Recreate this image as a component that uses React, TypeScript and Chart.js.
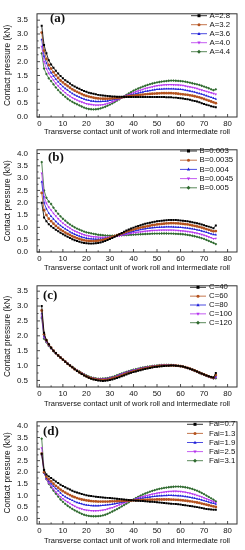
import React, { useEffect, useRef } from "react";
import { Chart, registerables } from "chart.js";
Chart.register(...registerables);

// ---------------- DATA ----------------
const X = [1,2,3,4,5,6,7,8,9,10,11,12,13,14,15,16,17,18,19,20,21,22,23,24,25,26,27,28,29,30,31,32,33,34,35,36,37,38,39,40,41,42,43,44,45,46,47,48,49,50,51,52,53,54,55,56,57,58,59,60,61,62,63,64,65,66,67,68,69,70,71,72,73,74,75];
const X_TICKS = [0,10,20,30,40,50,60,70,80];

const X_TITLE = "Transverse contact unit of work roll and intermediate roll";
const Y_TITLE = "Contact pressure (kN)";

// (a)
const A_LABELS = ["A=2.8","A=3.2","A=3.6","A=4.0","A=4.4"];
const A_28 = [3.30,2.60,2.30,2.05,1.90,1.78,1.67,1.57,1.48,1.40,
1.33,1.27,1.21,1.15,1.10,1.06,1.02,0.98,0.94,0.91,
0.88,0.86,0.84,0.82,0.80,0.79,0.78,0.77,0.76,0.75,
0.745,0.74,0.735,0.73,0.73,0.725,0.72,0.72,0.72,0.72,
0.72,0.72,0.72,0.72,0.72,0.72,0.72,0.72,0.72,0.72,
0.72,0.72,0.72,0.71,0.71,0.71,0.70,0.70,0.69,0.68,
0.67,0.65,0.64,0.62,0.60,0.58,0.56,0.53,0.50,0.47,
0.44,0.42,0.39,0.37,0.35];
const A_32 = [3.05,2.40,2.10,1.88,1.75,1.62,1.51,1.41,1.32,1.25,
1.18,1.12,1.06,1.00,0.95,0.91,0.87,0.83,0.79,0.76,
0.74,0.72,0.70,0.68,0.67,0.665,0.66,0.66,0.66,0.665,
0.67,0.68,0.69,0.70,0.71,0.72,0.735,0.75,0.76,0.77,
0.78,0.79,0.80,0.81,0.82,0.83,0.835,0.84,0.845,0.85,
0.855,0.86,0.86,0.86,0.86,0.86,0.855,0.85,0.84,0.83,
0.82,0.81,0.80,0.785,0.77,0.75,0.73,0.71,0.68,0.65,
0.62,0.59,0.56,0.53,0.50];
const A_36 = [2.80,2.20,1.95,1.75,1.60,1.48,1.37,1.27,1.18,1.10,
1.03,0.97,0.91,0.85,0.80,0.76,0.72,0.68,0.65,0.62,
0.60,0.58,0.57,0.56,0.56,0.56,0.565,0.57,0.58,0.60,
0.62,0.64,0.66,0.68,0.70,0.725,0.75,0.775,0.80,0.82,
0.84,0.865,0.885,0.905,0.925,0.94,0.955,0.97,0.985,1.00,
1.005,1.01,1.015,1.02,1.02,1.02,1.015,1.01,1.005,1.00,
0.99,0.97,0.955,0.94,0.92,0.90,0.875,0.85,0.825,0.80,
0.77,0.74,0.71,0.68,0.65];
const A_40 = [2.55,2.00,1.75,1.58,1.45,1.33,1.22,1.12,1.03,0.95,
0.88,0.81,0.75,0.70,0.65,0.61,0.57,0.54,0.51,0.48,
0.46,0.45,0.44,0.43,0.43,0.435,0.445,0.46,0.49,0.52,
0.55,0.58,0.62,0.66,0.70,0.74,0.775,0.81,0.845,0.88,
0.91,0.94,0.97,1.00,1.03,1.05,1.07,1.09,1.11,1.13,
1.14,1.15,1.16,1.165,1.17,1.17,1.165,1.16,1.155,1.15,
1.14,1.12,1.10,1.085,1.07,1.05,1.03,1.00,0.975,0.95,
0.925,0.90,0.875,0.85,0.82];
const A_44 = [2.30,1.75,1.55,1.40,1.30,1.18,1.07,0.97,0.88,0.80,
0.73,0.66,0.60,0.55,0.50,0.46,0.42,0.38,0.34,0.31,
0.29,0.28,0.275,0.28,0.29,0.31,0.34,0.37,0.41,0.45,
0.49,0.54,0.59,0.64,0.70,0.75,0.80,0.85,0.90,0.95,
0.99,1.03,1.065,1.10,1.13,1.16,1.185,1.21,1.23,1.25,
1.265,1.28,1.29,1.30,1.31,1.315,1.315,1.31,1.305,1.30,
1.29,1.275,1.26,1.24,1.22,1.20,1.18,1.16,1.13,1.10,
1.07,1.04,1.00,0.97,1.00];
const Y_TICKS_A = [0,0.5,1.0,1.5,2.0,2.5,3.0,3.5];

// (b)
const B_LABELS = ["B=0.003","B=0.0035","B=0.004","B=0.0045","B=0.005"];
const B_003 = [2.00,1.40,1.25,1.13,1.05,0.97,0.90,0.84,0.78,0.72,
0.67,0.62,0.57,0.52,0.48,0.45,0.42,0.39,0.37,0.355,
0.345,0.34,0.345,0.355,0.37,0.39,0.42,0.45,0.49,0.53,
0.57,0.62,0.67,0.72,0.77,0.82,0.87,0.91,0.95,0.99,
1.03,1.06,1.09,1.12,1.15,1.17,1.19,1.21,1.23,1.245,
1.26,1.27,1.28,1.29,1.295,1.30,1.30,1.295,1.29,1.28,
1.27,1.26,1.245,1.23,1.21,1.19,1.17,1.145,1.12,1.09,
1.06,1.03,1.00,0.96,1.08];
const B_0035 = [2.40,1.70,1.50,1.35,1.25,1.15,1.06,0.98,0.91,0.85,
0.79,0.74,0.69,0.64,0.60,0.56,0.53,0.50,0.475,0.46,
0.45,0.445,0.445,0.45,0.46,0.475,0.495,0.52,0.545,0.575,
0.61,0.645,0.68,0.715,0.75,0.785,0.82,0.85,0.88,0.91,
0.94,0.965,0.99,1.01,1.03,1.05,1.07,1.09,1.105,1.12,
1.13,1.14,1.15,1.16,1.165,1.17,1.17,1.165,1.16,1.15,
1.14,1.13,1.12,1.10,1.08,1.06,1.04,1.02,0.99,0.96,
0.93,0.90,0.87,0.84,0.85];
const B_004 = [2.85,2.00,1.75,1.58,1.45,1.34,1.24,1.15,1.07,1.00,
0.94,0.88,0.82,0.77,0.72,0.68,0.645,0.61,0.585,0.56,
0.545,0.535,0.525,0.52,0.52,0.525,0.535,0.55,0.565,0.585,
0.61,0.635,0.66,0.69,0.72,0.745,0.77,0.795,0.82,0.845,
0.87,0.89,0.91,0.93,0.945,0.96,0.975,0.985,0.995,1.00,
1.005,1.01,1.015,1.02,1.02,1.02,1.015,1.01,1.005,1.00,
0.99,0.98,0.97,0.955,0.94,0.92,0.90,0.88,0.855,0.83,
0.80,0.77,0.74,0.71,0.70];
const B_0045 = [3.20,2.25,1.98,1.82,1.70,1.57,1.46,1.35,1.26,1.17,
1.10,1.03,0.97,0.91,0.85,0.81,0.77,0.73,0.70,0.67,
0.65,0.63,0.62,0.61,0.60,0.595,0.595,0.595,0.60,0.605,
0.615,0.63,0.645,0.66,0.68,0.70,0.72,0.74,0.76,0.78,
0.79,0.805,0.815,0.83,0.84,0.85,0.86,0.87,0.875,0.88,
0.885,0.89,0.89,0.89,0.89,0.89,0.885,0.88,0.87,0.86,
0.85,0.84,0.83,0.815,0.80,0.78,0.76,0.74,0.71,0.68,
0.65,0.61,0.58,0.54,0.55];
const B_005 = [3.65,2.50,2.20,2.05,1.95,1.80,1.67,1.55,1.45,1.35,
1.27,1.19,1.12,1.06,1.00,0.95,0.91,0.87,0.83,0.80,
0.78,0.76,0.74,0.72,0.70,0.69,0.68,0.67,0.665,0.66,
0.66,0.665,0.67,0.675,0.68,0.685,0.69,0.695,0.70,0.705,
0.71,0.715,0.72,0.725,0.73,0.735,0.74,0.745,0.748,0.75,
0.75,0.752,0.752,0.752,0.75,0.75,0.745,0.74,0.735,0.73,
0.72,0.71,0.695,0.68,0.66,0.64,0.615,0.59,0.56,0.53,
0.49,0.45,0.41,0.37,0.32];
const Y_TICKS_B = [0,0.5,1.0,1.5,2.0,2.5,3.0,3.5,4.0];

// (c)
const C_LABELS = ["C=40","C=60","C=80","C=100","C=120"];
const C_40 = [3.00,2.10,1.85,1.72,1.60,1.50,1.42,1.34,1.27,1.20,
1.13,1.06,1.00,0.94,0.88,0.82,0.77,0.72,0.67,0.63,
0.59,0.56,0.535,0.515,0.50,0.49,0.485,0.49,0.50,0.515,
0.535,0.56,0.585,0.61,0.64,0.67,0.70,0.73,0.755,0.78,
0.80,0.825,0.845,0.865,0.885,0.905,0.92,0.935,0.95,0.96,
0.97,0.98,0.985,0.99,0.995,1.00,1.00,0.995,0.99,0.98,
0.965,0.945,0.92,0.895,0.865,0.835,0.80,0.765,0.73,0.70,
0.67,0.64,0.62,0.60,0.75];
const C_60 = [2.85,2.05,1.85,1.71,1.60,1.50,1.42,1.34,1.27,1.20,
1.13,1.06,1.00,0.94,0.88,0.825,0.775,0.725,0.68,0.64,
0.60,0.575,0.55,0.535,0.525,0.52,0.515,0.52,0.53,0.545,
0.565,0.59,0.615,0.64,0.67,0.70,0.73,0.755,0.78,0.805,
0.825,0.85,0.87,0.89,0.905,0.925,0.94,0.955,0.965,0.975,
0.985,0.99,0.995,1.00,1.00,1.005,1.00,0.995,0.99,0.98,
0.965,0.945,0.92,0.895,0.865,0.835,0.80,0.765,0.73,0.70,
0.67,0.64,0.61,0.59,0.68];
const C_80 = [2.75,2.00,1.83,1.70,1.59,1.50,1.42,1.34,1.27,1.20,
1.13,1.065,1.005,0.945,0.885,0.83,0.78,0.735,0.69,0.65,
0.615,0.585,0.565,0.55,0.54,0.535,0.535,0.54,0.55,0.565,
0.585,0.61,0.635,0.665,0.695,0.725,0.75,0.78,0.80,0.825,
0.845,0.865,0.885,0.905,0.92,0.935,0.95,0.965,0.975,0.985,
0.99,1.00,1.005,1.01,1.01,1.01,1.005,1.00,0.99,0.98,
0.965,0.945,0.92,0.89,0.86,0.83,0.795,0.76,0.725,0.695,
0.665,0.635,0.605,0.58,0.63];
const C_100 = [2.65,1.95,1.80,1.68,1.58,1.49,1.41,1.34,1.27,1.20,
1.135,1.07,1.01,0.95,0.89,0.835,0.79,0.745,0.70,0.66,
0.625,0.595,0.575,0.56,0.55,0.55,0.55,0.555,0.565,0.58,
0.60,0.625,0.655,0.685,0.715,0.745,0.77,0.80,0.82,0.845,
0.865,0.885,0.905,0.92,0.935,0.95,0.965,0.975,0.985,0.995,
1.00,1.01,1.015,1.015,1.015,1.015,1.01,1.00,0.99,0.98,
0.965,0.94,0.915,0.885,0.855,0.825,0.79,0.755,0.72,0.69,
0.66,0.63,0.60,0.57,0.60];
const C_120 = [2.60,1.90,1.78,1.66,1.57,1.48,1.40,1.33,1.27,1.20,
1.135,1.075,1.015,0.955,0.90,0.845,0.80,0.755,0.71,0.67,
0.635,0.605,0.585,0.57,0.56,0.56,0.565,0.57,0.58,0.60,
0.62,0.645,0.675,0.705,0.735,0.765,0.79,0.815,0.84,0.86,
0.88,0.90,0.92,0.935,0.95,0.965,0.975,0.985,0.995,1.005,
1.01,1.02,1.025,1.025,1.025,1.02,1.015,1.005,0.995,0.98,
0.965,0.94,0.915,0.885,0.855,0.82,0.785,0.75,0.715,0.685,
0.655,0.625,0.595,0.565,0.57];
const Y_TICKS_C = [0.5,1.0,1.5,2.0,2.5,3.0,3.5];

// (d)
const D_LABELS = ["Fai=0.7","Fai=1.3","Fai=1.9","Fai=2.5","Fai=3.1"];
const D_07 = [2.80,2.10,1.90,1.82,1.75,1.67,1.60,1.53,1.46,1.40,
1.35,1.30,1.25,1.20,1.15,1.12,1.09,1.06,1.03,1.00,
0.985,0.97,0.955,0.94,0.93,0.92,0.91,0.90,0.89,0.88,
0.87,0.86,0.85,0.84,0.83,0.82,0.81,0.80,0.79,0.78,
0.77,0.765,0.755,0.75,0.74,0.735,0.725,0.72,0.71,0.70,
0.69,0.68,0.67,0.66,0.65,0.64,0.63,0.62,0.61,0.60,
0.585,0.57,0.555,0.54,0.525,0.505,0.49,0.47,0.45,0.43,
0.41,0.40,0.39,0.38,0.38];
const D_13 = [2.80,2.00,1.80,1.70,1.60,1.50,1.41,1.33,1.25,1.18,
1.12,1.06,1.01,0.96,0.92,0.88,0.85,0.82,0.80,0.78,
0.765,0.75,0.74,0.735,0.73,0.73,0.73,0.73,0.73,0.735,
0.74,0.74,0.745,0.75,0.755,0.76,0.765,0.77,0.775,0.78,
0.785,0.79,0.795,0.80,0.805,0.81,0.81,0.815,0.815,0.82,
0.82,0.82,0.82,0.82,0.82,0.815,0.81,0.805,0.80,0.79,
0.78,0.77,0.755,0.74,0.73,0.71,0.69,0.67,0.645,0.62,
0.595,0.57,0.545,0.52,0.50];
const D_19 = [2.75,1.95,1.75,1.62,1.50,1.39,1.29,1.20,1.10,1.00,
0.94,0.88,0.83,0.78,0.73,0.69,0.66,0.63,0.60,0.58,
0.565,0.555,0.55,0.55,0.55,0.555,0.565,0.575,0.59,0.60,
0.615,0.635,0.655,0.675,0.70,0.72,0.74,0.76,0.78,0.80,
0.82,0.84,0.86,0.88,0.90,0.915,0.93,0.945,0.955,0.97,
0.98,0.985,0.99,0.995,1.00,1.00,0.995,0.99,0.985,0.975,
0.965,0.95,0.935,0.915,0.895,0.875,0.85,0.825,0.80,0.77,
0.74,0.71,0.68,0.65,0.62];
const D_25 = [3.05,2.00,1.70,1.53,1.40,1.27,1.15,1.04,0.94,0.85,
0.78,0.71,0.65,0.59,0.53,0.48,0.44,0.41,0.38,0.36,
0.345,0.335,0.33,0.33,0.335,0.345,0.36,0.38,0.41,0.44,
0.47,0.51,0.55,0.59,0.63,0.67,0.71,0.745,0.78,0.815,
0.85,0.885,0.915,0.945,0.97,1.00,1.025,1.05,1.07,1.09,
1.11,1.125,1.14,1.155,1.165,1.17,1.175,1.175,1.17,1.165,
1.15,1.135,1.115,1.09,1.065,1.035,1.00,0.965,0.93,0.89,
0.85,0.81,0.77,0.73,0.68];
const D_31 = [3.45,2.10,1.70,1.50,1.35,1.20,1.07,0.94,0.82,0.72,
0.63,0.55,0.48,0.41,0.35,0.30,0.25,0.20,0.16,0.13,
0.11,0.10,0.095,0.095,0.10,0.11,0.13,0.16,0.20,0.25,
0.30,0.35,0.40,0.46,0.52,0.58,0.64,0.70,0.76,0.82,
0.88,0.935,0.985,1.035,1.08,1.12,1.16,1.195,1.225,1.255,
1.28,1.30,1.32,1.335,1.35,1.36,1.37,1.38,1.38,1.375,
1.365,1.35,1.33,1.305,1.275,1.24,1.20,1.155,1.105,1.05,
0.99,0.93,0.87,0.81,0.74];
const Y_TICKS_D = [0,0.5,1.0,1.5,2.0,2.5,3.0,3.5,4.0];

// ---------------- STYLE ----------------
const FONT = "'Liberation Sans', Arial, sans-serif";
const COLORS = ["#000000", "#B4521E", "#1E1ED8", "#B532EE", "#2F6A2F"];
const PSTYLE = ["rect", "circle", "triangle", "triangle", "rectRot"];
const PROT = [0, 0, 0, 180, 0];

type PanelCfg = {
  letter: string; labels: string[]; series: number[][]; yMin: number; yMax: number; yTicks: number[];
  top: number; height: number; padTop: number; xH: number;
  legend: { x1: number; x2: number; tx: number; y0: number; dy: number };
  letterPos: { x: number; y: number };
};

const PANELS: PanelCfg[] = [
  { letter: "(a)", labels: A_LABELS, series: [A_28, A_32, A_36, A_40, A_44], yMin: 0, yMax: 3.73, yTicks: Y_TICKS_A,
    top: 0, height: 136, padTop: 6, xH: 19, legend: { x1: 191, x2: 207, tx: 209.5, y0: 15.7, dy: 9 }, letterPos: { x: 50, y: 19 } },
  { letter: "(b)", labels: B_LABELS, series: [B_003, B_0035, B_004, B_0045, B_005], yMin: 0, yMax: 4.15, yTicks: Y_TICKS_B,
    top: 136, height: 136, padTop: 8, xH: 20, legend: { x1: 180, x2: 197, tx: 199.5, y0: 15, dy: 9.2 }, letterPos: { x: 48, y: 21.5 } },
  { letter: "(c)", labels: C_LABELS, series: [C_40, C_60, C_80, C_100, C_120], yMin: 0.28, yMax: 3.68, yTicks: Y_TICKS_C,
    top: 272, height: 136, padTop: 8, xH: 21, legend: { x1: 190, x2: 206, tx: 209, y0: 15.3, dy: 8.85 }, letterPos: { x: 43, y: 23.5 } },
  { letter: "(d)", labels: D_LABELS, series: [D_07, D_13, D_19, D_25, D_31], yMin: -0.24, yMax: 4.18, yTicks: Y_TICKS_D,
    top: 408, height: 137, padTop: 8, xH: 21, legend: { x1: 187, x2: 203, tx: 209, y0: 16.3, dy: 9.1 }, letterPos: { x: 43, y: 24 } },
];

function drawMarker(ctx: CanvasRenderingContext2D, i: number, x: number, y: number, r: number) {
  ctx.beginPath();
  if (i === 0) ctx.rect(x - r, y - r, 2 * r, 2 * r);
  else if (i === 1) ctx.arc(x, y, r, 0, Math.PI * 2);
  else if (i === 2) { ctx.moveTo(x, y - r * 1.2); ctx.lineTo(x + r * 1.1, y + r * 0.8); ctx.lineTo(x - r * 1.1, y + r * 0.8); ctx.closePath(); }
  else if (i === 3) { ctx.moveTo(x, y + r * 1.2); ctx.lineTo(x + r * 1.1, y - r * 0.8); ctx.lineTo(x - r * 1.1, y - r * 0.8); ctx.closePath(); }
  else { ctx.moveTo(x, y - r * 1.3); ctx.lineTo(x + r * 1.3, y); ctx.lineTo(x, y + r * 1.3); ctx.lineTo(x - r * 1.3, y); ctx.closePath(); }
  ctx.fill();
}

function Panel({ cfg }: { cfg: PanelCfg }) {
  const ref = useRef<HTMLCanvasElement | null>(null);
  useEffect(() => {
    if (!ref.current) return;
    const decor = {
      id: "decor",
      afterDraw(chart: any) {
        const ctx: CanvasRenderingContext2D = chart.ctx;
        const { left, top, right, bottom } = chart.chartArea;
        const xs = chart.scales.x, ys = chart.scales.y;
        ctx.save();
        ctx.strokeStyle = "#222";
        ctx.lineWidth = 0.8;
        ctx.beginPath();
        for (let k = 0; k < X_TICKS.length; k++) {
          const v = X_TICKS[k];
          const px = xs.getPixelForValue(v);
          ctx.moveTo(px, bottom); ctx.lineTo(px, bottom - 3);
          const mv = v + 5;
          if (mv < xs.max) { const mp = xs.getPixelForValue(mv); ctx.moveTo(mp, bottom); ctx.lineTo(mp, bottom - 1.6); }
        }
        for (let k = 0; k < cfg.yTicks.length; k++) {
          const v = cfg.yTicks[k];
          const py = ys.getPixelForValue(v);
          ctx.moveTo(left, py); ctx.lineTo(left + 3, py);
          const mv = v + 0.25;
          if (mv < ys.max) { const mp = ys.getPixelForValue(mv); ctx.moveTo(left, mp); ctx.lineTo(left + 1.6, mp); }
          const mv2 = v - 0.25;
          if (k === 0 && mv2 > ys.min) { const mp = ys.getPixelForValue(mv2); ctx.moveTo(left, mp); ctx.lineTo(left + 1.6, mp); }
        }
        ctx.stroke();
        ctx.lineWidth = 1;
        ctx.strokeStyle = "#333";
        ctx.strokeRect(left, top, right - left, bottom - top);
        ctx.fillStyle = "#111";
        ctx.font = "bold 13px 'Liberation Serif', 'Times New Roman', serif";
        ctx.textBaseline = "middle";
        ctx.textAlign = "left";
        ctx.fillText(cfg.letter, cfg.letterPos.x, cfg.letterPos.y);
        const L = cfg.legend;
        ctx.font = "7.8px " + FONT;
        chart.data.datasets.forEach((ds: any, i: number) => {
          const y = L.y0 + i * L.dy;
          ctx.strokeStyle = COLORS[i];
          ctx.fillStyle = COLORS[i];
          ctx.lineWidth = 0.8;
          ctx.beginPath(); ctx.moveTo(L.x1, y); ctx.lineTo(L.x2, y); ctx.stroke();
          drawMarker(ctx, i, (L.x1 + L.x2) / 2, y, 1.5);
          ctx.fillStyle = "#111";
          ctx.fillText(ds.label, L.tx, y);
        });
        ctx.restore();
      },
    };
    const chart = new Chart(ref.current, {
      type: "line",
      data: {
        datasets: cfg.series.map((s, i) => ({
          label: cfg.labels[i],
          data: X.map((x, j) => ({ x, y: s[j] })),
          borderColor: COLORS[i],
          backgroundColor: COLORS[i],
          borderWidth: 0.8,
          pointRadius: 1.4,
          pointBorderWidth: 0,
          pointStyle: PSTYLE[i] as any,
          pointRotation: PROT[i],
          tension: 0,
          fill: false,
        })),
      },
      options: {
        animation: false,
        responsive: false,
        devicePixelRatio: 1,
        layout: { padding: { top: cfg.padTop, right: 8, left: 0, bottom: 0 } },
        plugins: { legend: { display: false }, tooltip: { enabled: false } },
        scales: {
          x: {
            type: "linear", min: -1, max: 84,
            grid: { display: false, drawTicks: false },
            border: { display: false },
            afterBuildTicks: (s: any) => { s.ticks = X_TICKS.map((v) => ({ value: v })); },
            afterFit: (s: any) => { s.height = cfg.xH; },
            ticks: { padding: 2, color: "#111", font: { family: FONT, size: 7.8 }, maxRotation: 0, autoSkip: false, callback: (v: any) => String(v) },
            title: { display: true, text: X_TITLE, color: "#111", font: { family: FONT, size: 7.5 }, padding: { top: 0, bottom: 0 } },
          },
          y: {
            type: "linear", min: cfg.yMin, max: cfg.yMax,
            grid: { display: false, drawTicks: false },
            border: { display: false },
            afterBuildTicks: (s: any) => { s.ticks = cfg.yTicks.map((v) => ({ value: v })); },
            afterFit: (s: any) => { s.width = 37; },
            ticks: { padding: 9, color: "#111", font: { family: FONT, size: 8 }, autoSkip: false, callback: (v: any) => Number(v).toFixed(1) },
            title: { display: true, text: Y_TITLE, color: "#111", font: { family: FONT, size: 8.3 }, padding: { top: 3, bottom: 0 } },
          },
        },
      },
      plugins: [decor],
    } as any);
    return () => chart.destroy();
  }, [cfg]);
  return (
    <canvas
      ref={ref}
      width={245}
      height={cfg.height}
      style={{ position: "absolute", left: 0, top: cfg.top, width: 245, height: cfg.height, display: "block" }}
    />
  );
}

export default function App() {
  return (
    <div style={{ position: "absolute", left: 0, top: 0, width: 245, height: 550, background: "#fff", overflow: "hidden" }}>
      {PANELS.map((p, i) => (
        <Panel key={i} cfg={p} />
      ))}
    </div>
  );
}
